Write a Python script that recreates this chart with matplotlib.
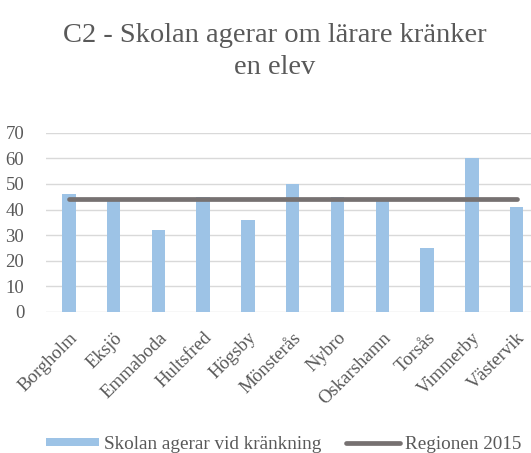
import matplotlib
matplotlib.use("Agg")
import matplotlib.pyplot as plt
import matplotlib.transforms as mtransforms
from matplotlib.lines import Line2D
from matplotlib.patches import Patch

categories = ["Borgholm", "Eksjö", "Emmaboda", "Hultsfred", "Högsby", "Mönsterås",
              "Nybro", "Oskarshamn", "Torsås", "Vimmerby", "Västervik"]
skolan = [46, 44, 32, 45, 36, 50, 45, 44, 25, 60, 41]
regionen = [44] * len(categories)
yticks = [0, 10, 20, 30, 40, 50, 60, 70]

plt.rcParams['font.family'] = ['Liberation Serif', 'DejaVu Serif']

W, H = 531, 453
fig = plt.figure(figsize=(W / 100, H / 100), dpi=100)
ax = fig.add_axes([46.4 / W, (H - 312) / H, (539 - 46.4) / W, (312 - 132.7) / H])

x = list(range(len(categories)))
bar_color = "#9DC3E6"
line_color = "#767171"
text_color = "#595959"
grid_color = "#D9D9D9"

ax.bar(x, skolan, width=0.3, color=bar_color, zorder=2)
ax.plot(x, regionen, color=line_color, linewidth=3.4, solid_capstyle='round', zorder=3)

ax.set_xlim(-0.5, len(categories) - 0.5)
ax.set_ylim(0, 70)
ax.set_yticks(yticks)
ax.yaxis.grid(True, color=grid_color, linewidth=1.0, zorder=0)
ax.set_axisbelow(True)
for s in ax.spines.values():
    s.set_visible(False)
ax.tick_params(axis='both', length=0, labelsize=13.5, labelcolor=text_color)
ax.tick_params(axis='y', pad=16)
ax.tick_params(axis='x', pad=6)
ax.set_xticks(x)
ax.set_xticklabels(categories, rotation=45, ha='right', rotation_mode='anchor')
offset = mtransforms.ScaledTranslation(0 / 100, -9 / 100, fig.dpi_scale_trans)
for lbl in ax.get_xticklabels():
    lbl.set_transform(lbl.get_transform() + offset)

fig.text(275 / W, 1 - 23 / H, "C2 - Skolan agerar om lärare kränker\nen elev",
         ha='center', va='top', fontsize=20.5, color=text_color, linespacing=1.35)

handles = [Patch(facecolor=bar_color, edgecolor='none'),
           Line2D([0], [0], color=line_color, linewidth=3.4, solid_capstyle='round')]
fig.legend(handles, ["Skolan agerar vid kränkning", "Regionen 2015"],
           loc='center', bbox_to_anchor=(283.5 / W, 1 - 444.5 / H), ncol=2, frameon=False,
           fontsize=13.8, handlelength=2.8, handleheight=0.32, handletextpad=0.25,
           columnspacing=1.3, labelcolor=text_color, borderpad=0.1)

fig.savefig("out.png", dpi=100)
